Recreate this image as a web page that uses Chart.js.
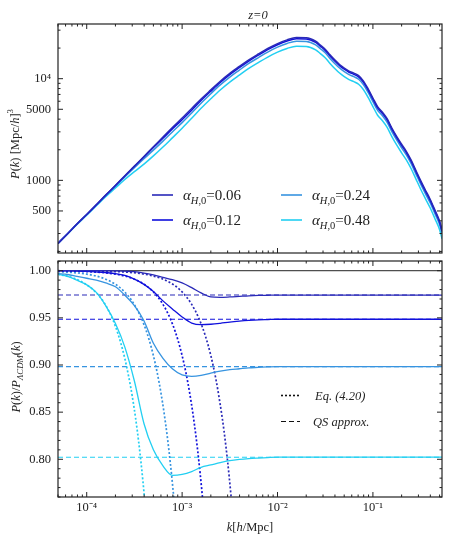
<!DOCTYPE html>
<html>
<head>
<meta charset="utf-8">
<script src="https://cdn.jsdelivr.net/npm/chart.js@4.4.1/dist/chart.umd.min.js"></script>
<style>
  body { margin: 0; background: #fff; }
  #wrap { position: relative; width: 451px; height: 542px; }
  canvas { position: absolute; left: 0; }
</style>
</head>
<body>
<div id="wrap">
  <canvas id="topPanel" width="451" height="256" style="top:0"></canvas>
  <canvas id="bottomPanel" width="451" height="286" style="top:256px"></canvas>
</div>
<script>
// k grid [h/Mpc] used for P(k) and the ratio curves
const kGrid = [5.0e-5, 6.3e-5, 7.9e-5, 1.0e-4, 1.26e-4, 1.58e-4, 2.0e-4, 2.51e-4, 3.16e-4, 3.98e-4,
  5.0e-4, 6.3e-4, 7.9e-4, 1.0e-3, 1.26e-3, 1.58e-3, 2.0e-3, 2.51e-3, 3.16e-3, 3.98e-3,
  5.0e-3, 6.3e-3, 7.9e-3, 0.01, 0.0126, 0.0158, 0.02, 0.0251,
  0.0282, 0.0316, 0.0355, 0.0398, 0.0447, 0.0501, 0.0562, 0.0631, 0.0708, 0.0794, 0.0891, 0.1,
  0.112, 0.126, 0.141, 0.158, 0.178, 0.2, 0.224, 0.251, 0.282, 0.316, 0.355, 0.398, 0.447, 0.501, 0.53]

// LCDM power spectrum [(Mpc/h)^3]
const pLCDM = [240, 299, 372, 462, 575, 716, 891, 1110, 1381, 1722,
  2148, 2680, 3343, 4156, 5186, 6462, 7984, 9715, 11594, 13551,
  15729, 17969, 20344, 22717, 24737, 26022, 25903, 23950,
  21950, 20020, 17630, 15720, 14170, 13070, 12200, 11650, 11000, 9758, 8150, 6630,
  5450, 4800, 4143, 3360, 2763, 2325, 1980, 1630, 1290, 1026, 825, 670, 523, 406, 332]

// P(k)/P_LCDM(k) for each alpha_H,0
const ratio006 = [1.0, 1.0, 1.0, 1.0, 1.0, 0.9999, 0.9998, 0.9995, 0.999, 0.9975,
  0.9955, 0.993, 0.9905, 0.987, 0.982, 0.9765, 0.9722, 0.9718, 0.9722, 0.9728,
  0.9734, 0.9738, 0.974, 0.9742, 0.9742, 0.9742, 0.9742, 0.9742,
  0.9742, 0.9742, 0.9742, 0.9742, 0.9742, 0.9742, 0.9742, 0.9742, 0.9742, 0.9742, 0.9742, 0.9742,
  0.9742, 0.9742, 0.9742, 0.9742, 0.9742, 0.9742, 0.9742, 0.9742, 0.9742, 0.9742, 0.9742, 0.9742, 0.9742, 0.9742, 0.9742]
const ratio012 = [1.0, 0.9999, 0.9997, 0.9993, 0.9987, 0.998, 0.997, 0.995, 0.991, 0.9855,
  0.978, 0.968, 0.9595, 0.951, 0.9445, 0.9428, 0.9432, 0.9442, 0.9455, 0.9465,
  0.9473, 0.9479, 0.9482, 0.9485, 0.9485, 0.9485, 0.9485, 0.9485,
  0.9485, 0.9485, 0.9485, 0.9485, 0.9485, 0.9485, 0.9485, 0.9485, 0.9485, 0.9485, 0.9485, 0.9485,
  0.9485, 0.9485, 0.9485, 0.9485, 0.9485, 0.9485, 0.9485, 0.9485, 0.9485, 0.9485, 0.9485, 0.9485, 0.9485, 0.9485, 0.9485]
const ratio024 = [0.997, 0.996, 0.994, 0.992, 0.990, 0.987, 0.983, 0.974, 0.963, 0.947,
  0.923, 0.907, 0.896, 0.8895, 0.888, 0.889, 0.8915, 0.8935, 0.895, 0.896,
  0.897, 0.8975, 0.898, 0.8983, 0.8983, 0.8983, 0.8983, 0.8983,
  0.8983, 0.8983, 0.8983, 0.8983, 0.8983, 0.8983, 0.8983, 0.8983, 0.8983, 0.8983, 0.8983, 0.8983,
  0.8983, 0.8983, 0.8983, 0.8983, 0.8983, 0.8983, 0.8983, 0.8983, 0.8983, 0.8983, 0.8983, 0.8983, 0.8983, 0.8983, 0.8983]
const ratio048 = [0.9962, 0.994, 0.990, 0.985, 0.977, 0.963, 0.944, 0.919, 0.883, 0.838,
  0.810, 0.793, 0.783, 0.784, 0.787, 0.7915, 0.794, 0.7965, 0.7985, 0.7998,
  0.8007, 0.8013, 0.8018, 0.8022, 0.8022, 0.8022, 0.8022, 0.8022,
  0.8022, 0.8022, 0.8022, 0.8022, 0.8022, 0.8022, 0.8022, 0.8022, 0.8022, 0.8022, 0.8022, 0.8022,
  0.8022, 0.8022, 0.8022, 0.8022, 0.8022, 0.8022, 0.8022, 0.8022, 0.8022, 0.8022, 0.8022, 0.8022, 0.8022, 0.8022, 0.8022]

// QS approximation levels (dashed)
const qsLevels = [0.9742, 0.9485, 0.8983, 0.8022]

// Eq. (4.20) curves (dotted), own k samples
const eqK006 = [5e-5, 2e-4, 4e-4, 6e-4, 8e-4, 1e-3, 1.25e-3, 1.5e-3, 1.75e-3, 2e-3, 2.25e-3, 2.5e-3, 2.75e-3, 3e-3, 3.25e-3, 3.5e-3]
const eqV006 = [1.0, 0.9991, 0.9964, 0.9919, 0.9856, 0.9775, 0.9648, 0.9494, 0.9311, 0.910, 0.886, 0.859, 0.830, 0.7975, 0.762, 0.724]
const eqK012 = [5e-5, 1e-4, 2e-4, 3e-4, 4e-4, 5e-4, 6e-4, 7e-4, 8e-4, 9e-4, 1e-3, 1.1e-3, 1.2e-3, 1.3e-3, 1.4e-3, 1.5e-3, 1.6e-3, 1.7e-3, 1.8e-3]
const eqV012 = [0.9998, 0.9991, 0.9964, 0.9919, 0.9856, 0.9775, 0.9676, 0.9559, 0.9424, 0.9271, 0.910, 0.8911, 0.8704, 0.8479, 0.8236, 0.7975, 0.7696, 0.7399, 0.7084]
const eqK024 = [5e-5, 1e-4, 1.5e-4, 2e-4, 2.5e-4, 3e-4, 3.5e-4, 4e-4, 4.5e-4, 5e-4, 5.5e-4, 6e-4, 6.5e-4, 7e-4, 7.5e-4, 8e-4, 8.5e-4, 9e-4]
const eqV024 = [0.9991, 0.9964, 0.9919, 0.9856, 0.9775, 0.9676, 0.9559, 0.9424, 0.9271, 0.910, 0.8911, 0.8704, 0.8479, 0.8236, 0.7975, 0.7696, 0.7399, 0.7084]
const eqK048 = [5e-5, 7.5e-5, 1e-4, 1.25e-4, 1.5e-4, 1.75e-4, 2e-4, 2.25e-4, 2.5e-4, 2.75e-4, 3e-4, 3.25e-4, 3.5e-4, 3.75e-4, 4e-4, 4.25e-4, 4.5e-4]
const eqV048 = [0.9963, 0.9917, 0.985, 0.977, 0.967, 0.955, 0.941, 0.925, 0.9075, 0.888, 0.867, 0.844, 0.819, 0.792, 0.763, 0.733, 0.70]

const alphaValues = ['0.06', '0.12', '0.24', '0.48']
const colors = ['#2a2ab8', '#1010dc', '#3794e0', '#22cff2']
const ratios = [ratio006, ratio012, ratio024, ratio048]
const eqK = [eqK006, eqK012, eqK024, eqK048]
const eqV = [eqV006, eqV012, eqV024, eqV048]

// axis ticks
const xTickValues = [1e-4, 1e-3, 1e-2, 1e-1]
const xTickLabels = ['10⁻⁴', '10⁻³', '10⁻²', '10⁻¹']
const pTickValues = [500, 1000, 5000, 10000]
const pTickLabels = ['500', '1000', '5000', '10⁴']
const rTickValues = [0.80, 0.85, 0.90, 0.95, 1.00]

const kMin = 5e-5, kMax = 0.53
const SERIF = '"Liberation Serif", "Times New Roman", serif'
Chart.defaults.font.family = SERIF
Chart.defaults.color = '#222'

// rich text: parts = [text, flags] flags: i italic, s subscript, p superscript
const fontFor = (f, size) => {
  const sz = (f.includes('s') || f.includes('p')) ? size * 0.7 : size
  return (f.includes('i') ? 'italic ' : '') + sz + 'px ' + SERIF
}
const drawRich = (ctx, parts, x, y, size, align, rot) => {
  ctx.save()
  let w = 0
  parts.forEach(([t, f]) => { ctx.font = fontFor(f, size); w += ctx.measureText(t).width })
  ctx.translate(x, y)
  if (rot) ctx.rotate(-Math.PI / 2)
  let cx = align === 'center' ? -w / 2 : 0
  ctx.fillStyle = '#222'
  ctx.textBaseline = 'alphabetic'
  parts.forEach(([t, f]) => {
    ctx.font = fontFor(f, size)
    const dy = f.includes('s') ? size * 0.25 : (f.includes('p') ? -size * 0.42 : 0)
    ctx.fillText(t, cx, dy)
    cx += ctx.measureText(t).width
  })
  ctx.restore()
}

// frame + inward ticks like the original figure
const logMinor = (lo, hi, majors) => {
  const out = []
  for (let e = -6; e <= 6; e++) {
    for (let m = 1; m <= 9; m++) {
      const v = m * Math.pow(10, e)
      if (v >= lo * 0.999 && v <= hi * 1.001) {
        const isMajor = majors.some(M => Math.abs(M - v) / M < 1e-6)
        out.push([v, isMajor ? 5 : 2.5])
      }
    }
  }
  return out
}
const xFrameTicks = logMinor(kMin, kMax, xTickValues)
const pFrameTicks = logMinor(193, 34500, pTickValues)
const rFrameTicks = []
for (let i = 76; i <= 101; i++) rFrameTicks.push([i / 100, i % 5 === 0 ? 5 : 2.5])

const frameTicks = {
  id: 'frameTicks',
  afterDatasetsDraw(chart, args, opts) {
    const { ctx, chartArea: a, scales } = chart
    ctx.save()
    ctx.strokeStyle = '#222'
    ctx.lineWidth = 1
    const seg = (x1, y1, x2, y2) => { ctx.beginPath(); ctx.moveTo(x1, y1); ctx.lineTo(x2, y2); ctx.stroke() }
    opts.x.forEach(([v, len]) => {
      const x = scales.x.getPixelForValue(v)
      if (x < a.left || x > a.right) return
      seg(x, a.bottom, x, a.bottom - len)
      seg(x, a.top, x, a.top + len)
    })
    opts.y.forEach(([v, len]) => {
      const y = scales.y.getPixelForValue(v)
      if (y < a.top || y > a.bottom) return
      seg(a.left, y, a.left + len, y)
      seg(a.right, y, a.right - len, y)
    })
    ctx.lineWidth = 1.2
    ctx.strokeRect(a.left, a.top, a.right - a.left, a.bottom - a.top)
    ctx.restore()
  }
}

// texts and legends of top panel
const topTexts = {
  id: 'topTexts',
  afterDraw(chart) {
    const ctx = chart.ctx
    drawRich(ctx, [['z=0', 'i']], 258, 19, 12.5, 'center')
    drawRich(ctx, [['P', 'i'], ['(', ''], ['k', 'i'], [') [Mpc/', ''], ['h', 'i'], [']', ''], ['3', 'p']], 18.5, 144, 12.5, 'center', true)
    const pos = [[152, 195], [152, 220], [281, 195], [281, 220]]
    alphaValues.forEach((a, j) => {
      const [x, y] = pos[j]
      ctx.save()
      ctx.strokeStyle = colors[j]
      ctx.lineWidth = 1.6
      ctx.beginPath(); ctx.moveTo(x, y); ctx.lineTo(x + 21, y); ctx.stroke()
      ctx.restore()
      drawRich(ctx, [['α', 'i'], ['H', 'is'], [',0', 's'], ['=' + a, '']], x + 31, y + 5, 15, 'left')
    })
  }
}

// texts and legend of bottom panel
const bottomTexts = {
  id: 'bottomTexts',
  afterDraw(chart) {
    const ctx = chart.ctx
    drawRich(ctx, [['P', 'i'], ['(', ''], ['k', 'i'], [')/', ''], ['P', 'i'], ['ΛCDM', 'is'], ['(', ''], ['k', 'i'], [')', '']], 19.5, 121, 12.5, 'center', true)
    drawRich(ctx, [['k', 'i'], ['[', ''], ['h', 'i'], ['/Mpc]', '']], 250, 275, 12.5, 'center')
    ctx.save()
    ctx.strokeStyle = '#111'
    ctx.lineWidth = 1.6
    ctx.setLineDash([2, 2])
    ctx.beginPath(); ctx.moveTo(281, 139.5); ctx.lineTo(300, 139.5); ctx.stroke()
    ctx.lineWidth = 1
    ctx.setLineDash([5, 3])
    ctx.beginPath(); ctx.moveTo(281, 165.5); ctx.lineTo(300, 165.5); ctx.stroke()
    ctx.restore()
    drawRich(ctx, [['Eq. (4.20)', 'i']], 315, 144, 12.5, 'left')
    drawRich(ctx, [['QS approx.', 'i']], 313, 170, 12.5, 'left')
  }
}

// no extra padding from tick labels: keep plot area where the original has it
const noPad = s => { s.paddingTop = 0; s.paddingBottom = 0; s.paddingLeft = 0; s.paddingRight = 0 }

// top panel: P(k)
new Chart(document.getElementById('topPanel'), {
  type: 'line',
  data: {
    datasets: alphaValues.map((a, j) => ({
      label: 'alpha_H,0=' + a,
      data: kGrid.map((k, i) => ({ x: k, y: pLCDM[i] * ratios[j][i] })),
      borderColor: colors[j],
      borderWidth: 1.5,
      pointRadius: 0,
      cubicInterpolationMode: 'monotone',
      fill: false
    }))
  },
  options: {
    responsive: false,
    animation: false,
    devicePixelRatio: 1,
    layout: { padding: { top: 24, right: 9, bottom: 3, left: 0 } },
    plugins: {
      legend: { display: false },
      tooltip: { enabled: false },
      frameTicks: { x: xFrameTicks, y: pFrameTicks }
    },
    scales: {
      x: {
        type: 'logarithmic', min: kMin, max: kMax,
        ticks: { display: false }, grid: { display: false, drawTicks: false }, border: { display: false },
        afterFit: s => { s.height = 0; noPad(s) }
      },
      y: {
        type: 'logarithmic', min: 193, max: 34500,
        grid: { display: false, drawTicks: false }, border: { display: false },
        ticks: {
          padding: 7, font: { size: 12.5 },
          callback: v => pTickLabels[pTickValues.indexOf(v)]
        },
        afterBuildTicks: s => { s.ticks = pTickValues.map(v => ({ value: v })) },
        afterFit: s => { s.width = 58; noPad(s) }
      }
    }
  },
  plugins: [frameTicks, topTexts]
})

// bottom panel: ratio to LCDM
const bottomSets = []
alphaValues.forEach((a, j) => bottomSets.push({
  label: 'ratio ' + a,
  data: kGrid.map((k, i) => ({ x: k, y: ratios[j][i] })),
  borderColor: colors[j], borderWidth: 1.3, pointRadius: 0,
  cubicInterpolationMode: 'monotone', fill: false
}))
alphaValues.forEach((a, j) => bottomSets.push({
  label: 'Eq. (4.20) ' + a,
  data: eqK[j].map((k, i) => ({ x: k, y: eqV[j][i] })),
  borderColor: colors[j], borderWidth: 1.7, borderDash: [2, 2], pointRadius: 0,
  cubicInterpolationMode: 'monotone', fill: false
}))
alphaValues.forEach((a, j) => bottomSets.push({
  label: 'QS approx. ' + a,
  data: [{ x: kMin, y: qsLevels[j] }, { x: kMax, y: qsLevels[j] }],
  borderColor: colors[j], borderWidth: 1.1, borderDash: [5, 3], pointRadius: 0, fill: false
}))
bottomSets.push({
  label: 'LCDM',
  data: [{ x: kMin, y: 1 }, { x: kMax, y: 1 }],
  borderColor: '#222', borderWidth: 1, pointRadius: 0, fill: false
})

new Chart(document.getElementById('bottomPanel'), {
  type: 'line',
  data: { datasets: bottomSets },
  options: {
    responsive: false,
    animation: false,
    devicePixelRatio: 1,
    layout: { padding: { top: 5, right: 9, bottom: 0, left: 0 } },
    plugins: {
      legend: { display: false },
      tooltip: { enabled: false },
      frameTicks: { x: xFrameTicks, y: rFrameTicks }
    },
    scales: {
      x: {
        type: 'logarithmic', min: kMin, max: kMax,
        grid: { display: false, drawTicks: false }, border: { display: false },
        ticks: {
          padding: 3, font: { size: 12.5 }, maxRotation: 0, autoSkip: false,
          callback: v => xTickLabels[xTickValues.findIndex(t => Math.abs(t - v) / t < 1e-6)]
        },
        afterBuildTicks: s => { s.ticks = xTickValues.map(v => ({ value: v })) },
        afterFit: s => { s.height = 45; noPad(s) }
      },
      y: {
        type: 'linear', min: 0.76, max: 1.0103,
        grid: { display: false, drawTicks: false }, border: { display: false },
        ticks: { padding: 7, font: { size: 12.5 }, callback: v => v.toFixed(2) },
        afterBuildTicks: s => { s.ticks = rTickValues.map(v => ({ value: v })) },
        afterFit: s => { s.width = 58; noPad(s) }
      }
    }
  },
  plugins: [frameTicks, bottomTexts]
})
</script>
</body>
</html>
